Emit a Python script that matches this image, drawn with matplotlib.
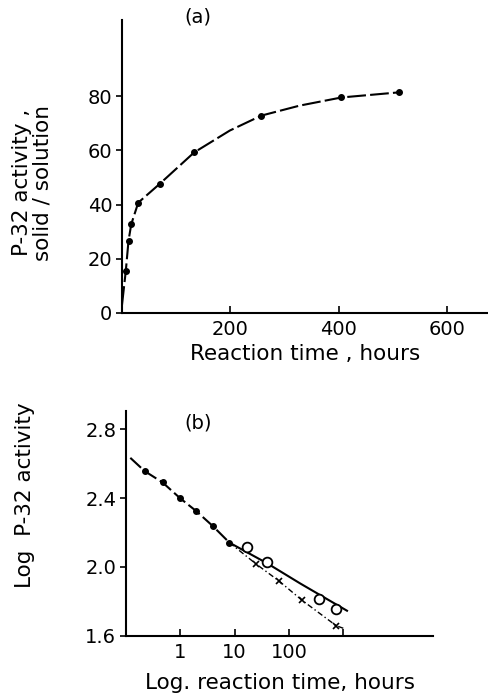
import numpy as np
import matplotlib
matplotlib.use("Agg")
import matplotlib.pyplot as plt

# ---- panel (a): uptake vs time
time_a = [7, 12, 17, 30, 70, 133, 257, 405, 512]
act_a = [15.5, 26.6, 32.7, 40.7, 47.7, 59.2, 72.8, 79.5, 81.4]
# points
curve_a_t = [0, 7, 12, 17, 30, 70, 133, 199, 257, 328, 405, 512]
curve_a_v = [3, 15.5, 26.6, 32.7, 40.7, 47.7, 59.2, 67.3, 72.8, 76.5, 79.5, 81.4]

# ---- panel (b): log activity vs log time
t_dots = [0.22, 0.47, 1.0, 1.95, 4.0, 8.0]
v_dots = [2.557, 2.491, 2.398, 2.325, 2.236, 2.141]
t_open = [17, 40, 360, 720]
v_open = [2.116, 2.031, 1.811, 1.757]
t_cross = [25, 66, 172, 740]
v_cross = [2.016, 1.917, 1.807, 1.658]

line_left_t = [0.12, 0.22, 0.47, 1.0, 1.95, 4.0, 8.0]
line_left_v = [2.634, 2.557, 2.491, 2.398, 2.325, 2.236, 2.141]
line_solid_t = [8.0, 40, 160, 1170]
line_solid_v = [2.141, 2.02, 1.904, 1.745]
line_dot_t = [8.0, 25, 66, 172, 740, 1000]
line_dot_v = [2.141, 2.016, 1.917, 1.807, 1.658, 1.643]

fs = 14      # tick labels
fl = 15.5    # axis labels

fig = plt.figure(figsize=(4.89, 6.97), dpi=100)

ax0 = fig.add_axes([0.2495, 0.551, 0.748, 0.420])
ax0.plot(curve_a_t, curve_a_v, color='k', lw=1.5, linestyle=(0, (9, 2)))
ax0.plot(time_a, act_a, 'o', color='k', ms=4)
ax0.set_xlim(0, 675)
ax0.set_ylim(0, 108)
ax0.set_xticks([200, 400, 600])
ax0.set_yticks([0, 20, 40, 60, 80])
for s in ['top', 'right']:
    ax0.spines[s].set_visible(False)
for s in ['left', 'bottom']:
    ax0.spines[s].set_linewidth(1.5)
ax0.tick_params(axis='x', direction='in', length=5, width=1.2, labelsize=fs, pad=5)
ax0.tick_params(axis='y', direction='out', length=4, width=1.2, labelsize=fs, pad=3)
ax0.set_xlabel('Reaction time , hours', fontsize=fl, labelpad=4)
fig.text(0.066, 0.738, 'P-32 activity ,\nsolid / solution', rotation=90,
         ha='center', va='center', fontsize=fl, linespacing=1.05)
fig.text(0.405, 0.976, '(a)', ha='center', va='center', fontsize=fs)

ax1 = fig.add_axes([0.2577, 0.088, 0.628, 0.322])
ax1.set_xscale('log')
ax1.plot(line_left_t, line_left_v, color='k', lw=1.5, linestyle=(0, (7, 2)))
ax1.plot(line_solid_t, line_solid_v, color='k', lw=1.5)
ax1.plot(line_dot_t, line_dot_v, color='k', lw=1.0, linestyle=(0, (4, 2, 1, 2)))
ax1.plot(t_dots, v_dots, 'o', color='k', ms=4)
ax1.plot(t_open, v_open, 'o', mfc='white', mec='k', ms=7, mew=1.3)
ax1.plot(t_cross, v_cross, 'x', color='k', ms=5, mew=1.2)
ax1.set_xlim(0.1, 45000)
ax1.set_ylim(1.6, 2.905)
ax1.set_xticks([1, 10, 100, 1000])
ax1.set_xticklabels(['1', '10', '100', ''])
ax1.xaxis.set_minor_locator(matplotlib.ticker.NullLocator())
ax1.set_yticks([1.6, 2.0, 2.4, 2.8])
ax1.set_yticklabels(['1.6', '2.0', '2.4', '2.8'])
for s in ['top', 'right']:
    ax1.spines[s].set_visible(False)
for s in ['left', 'bottom']:
    ax1.spines[s].set_linewidth(1.5)
ax1.tick_params(axis='x', direction='in', length=5, width=1.2, labelsize=fs, pad=5)
ax1.tick_params(axis='y', direction='out', length=4, width=1.2, labelsize=fs, pad=3)
ax1.set_xlabel('Log. reaction time, hours', fontsize=fl, labelpad=8)
fig.text(0.052, 0.29, 'Log  P-32 activity', rotation=90,
         ha='center', va='center', fontsize=fl)
fig.text(0.405, 0.393, '(b)', ha='center', va='center', fontsize=fs)

fig.savefig('out.png', dpi=100)
